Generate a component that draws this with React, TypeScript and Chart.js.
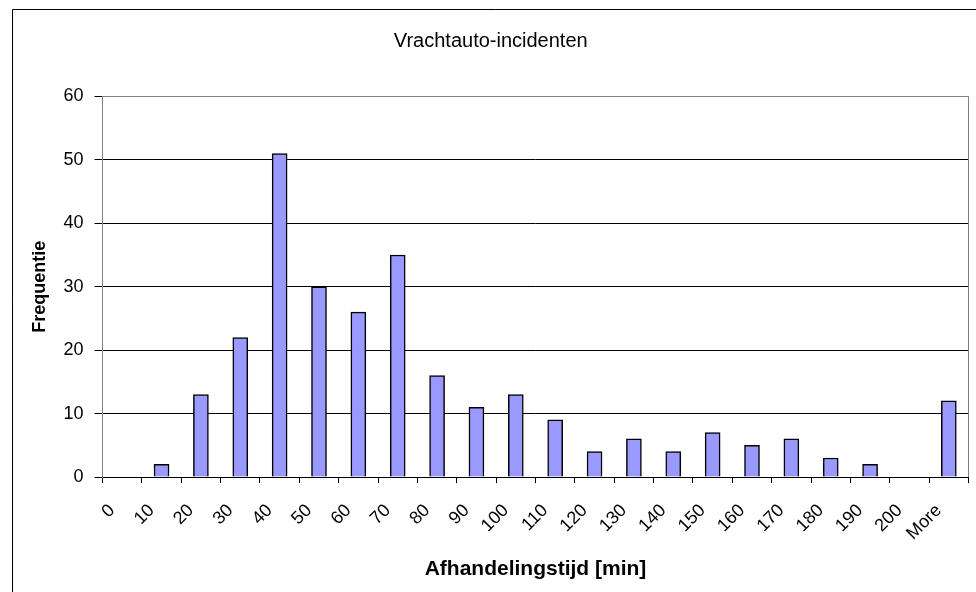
import React, { useEffect, useRef } from 'react';
import { Chart, registerables } from 'chart.js';

Chart.register(...registerables);

const chartTitle = 'Vrachtauto-incidenten';
const xAxisTitle = 'Afhandelingstijd [min]';
const yAxisTitle = 'Frequentie';
const categories = ['0', '10', '20', '30', '40', '50', '60', '70', '80', '90', '100', '110', '120', '130', '140', '150', '160', '170', '180', '190', '200', 'More'];
const frequencies = [0, 2, 13, 22, 51, 30, 26, 35, 16, 11, 13, 9, 4, 6, 4, 7, 5, 6, 3, 2, 0, 12];
const yMin = 0;
const yMax = 60;
const yStep = 10;

const FONT = "'Liberation Sans', Arial, sans-serif";

const framePlugin = {
  id: 'frame',
  beforeDraw(chart: any) {
    const ctx = chart.ctx;
    ctx.save();
    ctx.fillStyle = '#ffffff';
    ctx.fillRect(0, 0, chart.width, chart.height);
    ctx.strokeStyle = '#000000';
    ctx.lineWidth = 1;
    ctx.beginPath();
    ctx.moveTo(12.5, chart.height);
    ctx.lineTo(12.5, 9.5);
    ctx.lineTo(chart.width, 9.5);
    ctx.stroke();
    ctx.restore();
  },
  beforeDatasetsDraw(chart: any) {
    const { ctx, chartArea } = chart;
    ctx.save();
    ctx.strokeStyle = '#808080';
    ctx.lineWidth = 1;
    ctx.beginPath();
    ctx.moveTo(chartArea.left, chartArea.top);
    ctx.lineTo(chartArea.right, chartArea.top);
    ctx.lineTo(chartArea.right, chartArea.bottom);
    ctx.stroke();
    ctx.restore();
  },
};

export default function App() {
  const canvasRef = useRef<HTMLCanvasElement | null>(null);

  useEffect(() => {
    if (!canvasRef.current) return;
    const chart = new Chart(canvasRef.current, {
      type: 'bar',
      data: {
        labels: categories,
        datasets: [
          {
            data: frequencies,
            backgroundColor: '#9999ff',
            borderColor: '#000000',
            borderWidth: 1.5,
            barThickness: 15,
          },
        ],
      },
      options: {
        responsive: false,
        devicePixelRatio: 1,
        animation: false,
        layout: { padding: { left: 13, right: 7.5, top: 0, bottom: 0 } },
        plugins: {
          legend: { display: false },
          tooltip: { enabled: false },
          title: {
            display: true,
            text: chartTitle,
            color: '#000000',
            font: { family: FONT, size: 20, weight: 'normal' },
            padding: { top: 29, bottom: 43.5 },
          },
        },
        scales: {
          x: {
            type: 'category',
            offset: true,
            afterFit(scale: any) {
              scale.height = 115;
              scale.paddingLeft = 0;
              scale.paddingRight = 0;
            },
            grid: {
              offset: true,
              drawOnChartArea: false,
              drawTicks: true,
              tickLength: 6,
              color: '#000000',
              tickColor: '#000000',
            },
            border: { color: '#000000', width: 1 },
            ticks: {
              autoSkip: false,
              maxRotation: 45,
              minRotation: 45,
              labelOffset: -10,
              padding: 17,
              color: '#000000',
              font: { family: FONT, size: 18 },
            },
            title: {
              display: true,
              text: xAxisTitle,
              color: '#000000',
              font: { family: FONT, size: 21, weight: 'bold' },
              padding: { top: 0, bottom: 10 },
            },
          },
          y: {
            min: yMin,
            max: yMax,
            afterFit(scale: any) {
              scale.width = 89.5;
            },
            grid: {
              color: (c: any) => (c.tick && c.tick.value === yMax ? '#808080' : '#000000'),
              tickColor: '#000000',
              tickLength: 8,
            },
            border: { color: '#808080', width: 1 },
            ticks: {
              stepSize: yStep,
              padding: 11,
              color: '#000000',
              font: { family: FONT, size: 18 },
            },
            title: {
              display: true,
              text: yAxisTitle,
              color: '#000000',
              font: { family: FONT, size: 18, weight: 'bold' },
              padding: { top: 16.5, bottom: 0 },
            },
          },
        },
      },
      plugins: [framePlugin],
    } as any);
    return () => chart.destroy();
  }, []);

  return (
    <div style={{ position: 'fixed', left: 0, top: 0, width: 976, height: 592, background: '#fff' }}>
      <canvas ref={canvasRef} width={976} height={592} style={{ display: 'block', width: 976, height: 592 }} />
    </div>
  );
}
